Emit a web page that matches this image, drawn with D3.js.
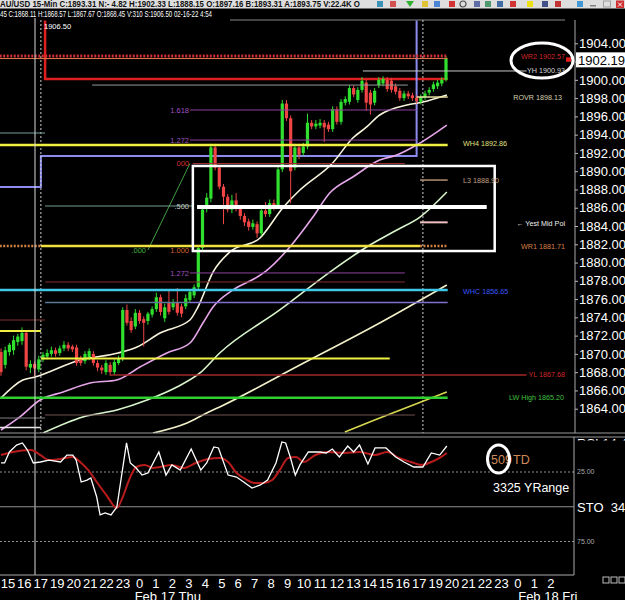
<!DOCTYPE html>
<html><head><meta charset="utf-8">
<script src="https://cdn.jsdelivr.net/npm/d3@7/dist/d3.min.js"></script>
<style>html,body{margin:0;padding:0;background:#000;overflow:hidden}svg{display:block}text{font-family:"Liberation Sans",Arial,sans-serif}</style>
</head><body><svg id="c" width="625" height="600"></svg>
<script>
// ---------- DATA ----------
const opens = [1870.2,1868.8,1870.2,1870.4,1871.3,1871.4,1872.3,1868.5,1868.9,1868.3,
1869.4,1869.7,1870.0,1870.4,1870.1,1870.6,1871.0,1870.8,1870.7,1869.5,
1869.2,1869.6,1870.0,1869.0,1868.5,1868.0,1868.8,1868.0,1869.0,1869.5,
1874.8,1873.6,1873.0,1874.5,1873.8,1873.6,1874.3,1874.9,1876.2,1873.9,
1875.6,1875.1,1875.6,1875.2,1875.2,1875.9,1876.4,1877.3,1881.6,1885.9,
1887.0,1892.6,1890.4,1888.3,1887.2,1885.8,1886.8,1885.9,1885.1,1884.5,
1883.9,1884.2,1883.2,1885.7,1885.3,1886.5,1886.3,1890.2,1897.4,1895.8,
1890.4,1892.6,1892.0,1892.7,1895.3,1894.9,1895.0,1895.3,1895.1,1894.6,
1896.8,1895.4,1897.5,1897.6,1899.1,1897.8,1898.9,1899.7,1898.6,1897.5,
1899.4,1899.6,1900.0,1899.9,1899.3,1898.8,1898.0,1898.5,1898.3,1898.0,
1897.6,1898.1,1898.6,1899.0,1899.3,1899.6,1900.0];
const highs = [1870.6,1870.8,1871.2,1872.0,1872.2,1872.9,1872.6,1869.3,1869.2,1869.8,
1870.2,1870.5,1870.8,1870.7,1870.9,1871.4,1871.3,1871.0,1871.0,1869.8,
1870.3,1870.6,1870.3,1869.3,1868.8,1869.3,1869.1,1869.4,1869.8,1875.1,
1875.4,1874.0,1874.9,1874.8,1874.1,1874.6,1875.2,1876.7,1876.5,1875.5,
1876.9,1876.0,1877.2,1875.5,1876.5,1877.1,1877.6,1881.9,1886.3,1887.6,
1893.0,1893.0,1890.7,1888.6,1887.5,1887.4,1887.6,1886.2,1885.4,1884.8,
1884.7,1884.5,1886.0,1886.6,1886.9,1886.9,1890.5,1897.8,1897.8,1896.1,
1893.0,1893.0,1893.1,1896.3,1895.6,1895.6,1895.7,1895.6,1895.4,1897.1,
1897.1,1897.9,1898.2,1899.4,1899.4,1899.2,1900.3,1900.0,1898.9,1899.1,
1900.3,1900.4,1900.3,1900.2,1899.6,1899.1,1898.8,1898.8,1898.6,1898.3,
1898.4,1898.8,1899.2,1899.8,1900.0,1900.3,1902.6];
const lows = [1867.6,1868.4,1869.8,1869.9,1870.9,1871.0,1868.2,1867.9,1867.5,1868.0,
1869.1,1869.4,1869.7,1869.7,1869.8,1870.3,1870.3,1870.2,1868.7,1868.7,
1868.9,1869.3,1868.7,1868.1,1867.8,1867.7,1867.6,1867.7,1868.8,1869.2,
1873.1,1872.3,1872.7,1873.3,1870.8,1873.2,1874.0,1874.6,1874.2,1873.5,
1874.3,1874.8,1874.2,1874.0,1874.9,1875.6,1876.1,1876.9,1881.2,1885.5,
1886.6,1890.1,1888.0,1884.2,1885.5,1885.4,1885.6,1884.7,1884.0,1883.5,
1883.6,1882.7,1882.9,1885.0,1885.0,1885.7,1886.0,1889.9,1895.5,1886.5,
1890.1,1891.3,1891.7,1892.4,1894.6,1894.6,1894.7,1893.2,1894.3,1894.3,
1895.1,1895.1,1897.2,1897.3,1898.1,1897.5,1898.6,1896.6,1896.2,1897.2,
1899.1,1899.3,1898.7,1898.6,1898.4,1897.7,1897.7,1897.9,1897.7,1897.4,
1897.3,1897.8,1898.3,1898.7,1899.0,1899.3,1899.8];
const closes = [1868.0,1870.4,1871.0,1871.5,1871.9,1872.3,1868.6,1868.9,1868.4,1869.4,
1869.9,1870.1,1870.4,1870.0,1870.6,1871.0,1870.6,1870.5,1869.0,1869.0,
1870.0,1870.3,1869.0,1868.5,1868.2,1869.0,1868.0,1869.1,1869.5,1874.8,
1873.4,1872.6,1874.5,1873.6,1873.4,1874.4,1874.9,1876.2,1874.6,1875.1,
1874.6,1875.6,1874.5,1874.4,1876.1,1876.8,1877.3,1881.6,1885.8,1887.1,
1892.6,1890.4,1888.3,1887.2,1885.8,1886.8,1885.9,1885.1,1884.4,1883.9,
1884.3,1883.2,1885.7,1885.3,1886.5,1886.2,1890.2,1897.4,1895.8,1890.0,
1892.6,1891.8,1892.7,1895.3,1894.9,1895.2,1895.3,1894.8,1894.6,1896.8,
1895.4,1897.6,1897.9,1899.1,1898.4,1898.9,1899.9,1897.5,1897.3,1898.8,
1900.0,1900.1,1899.0,1898.9,1898.7,1898.0,1898.5,1898.2,1898.0,1897.7,
1898.1,1898.5,1898.9,1899.5,1899.7,1900.0,1902.3];

// moving averages: bar index / price samples
const ma1Idx = [0,5.2,8.1,18.8,27.9,32.4,37.9,45.0,46.9,50.5,54.5,61.7,67.1,71.2,79.0,83.8,87.1,90.2,92.6,96.7,100.5,106.2];
const ma1Val = [1865.17,1867.14,1867.47,1869.33,1870.10,1870.75,1872.29,1873.71,1875.13,1878.96,1881.15,1882.69,1885.97,1887.94,1890.90,1893.63,1894.84,1896.15,1896.70,1897.24,1897.57,1898.34];
const ma2Idx = [0,4.5,9.3,14.8,21.2,27.6,33.1,39.5,45.0,48.1,50.5,55.2,61.0,63.4,68.8,74.3,78.3,83.8,90.2,94.3,99.0,106.2];
const ma2Val = [1861.67,1863.10,1864.95,1865.83,1866.81,1867.14,1868.56,1870.10,1871.19,1873.38,1875.13,1876.99,1878.41,1879.18,1881.70,1884.98,1887.61,1889.36,1891.22,1891.77,1892.86,1895.05];
const ma3Idx = [10.0,19.5,27.6,34.8,41.9,47.4,52.1,66.4,79.0,87.1,94.3,99.8,106.2];
const ma3Val = [1861.34,1863.10,1863.86,1864.95,1866.38,1867.91,1870.10,1874.81,1879.18,1881.70,1883.56,1884.98,1887.72];
const ma4Idx = [36.2,44.3,49.0,52.1,71.2,90.2,106.2];
const ma4Val = [1861.34,1862.43,1863.53,1864.19,1868.78,1873.38,1877.54];
const ma5Idx = [81.9,89.0,106.2];
const ma5Val = [1861.45,1862.76,1865.83];

// stochastic (lower pane)
const stochFastIdx = [0,0.85,2.0,3.7,5.1,6.3,7.7,9.4,11.4,14.2,15.7,17.1,17.9,19.1,20.5,21.4,22.8,23.6,24.8,26.2,27.6,29.9,30.8,32.2,33.6,35.0,37.6,39.3,40.7,42.7,45.3,47.6,49.0,50.7,51.8,54.1,56.1,57.8,59.8,61.8,63.5,65.5,66.9,67.8,68.9,70.1,71.2,73.2,76.0,77.5,78.9,80.6,82.6,84.0,85.4,87.4,89.1,91.7,94.0,96.0,98.3,100.5,102.5,104.5,106.2];
const stochFast = [18.5,18.5,10.6,5.6,4.1,9.2,18.5,17.8,16.4,17.8,
12.8,12.8,16.4,32.2,30.8,29.3,43.0,55.9,54.5,55.9,
50.2,4.1,18.5,22.1,27.2,25.7,10.6,27.2,19.9,23.6,
8.5,23.6,18.5,7.0,7.7,27.2,28.6,32.2,36.6,34.3,
30.8,18.5,3.4,4.1,14.2,27.2,19.9,10.6,10.6,11.3,
8.5,14.2,6.3,10.6,5.6,19.2,7.7,7.7,14.2,17.8,
21.4,21.4,11.3,12.8,6.3];
const stochSlowIdx = [0,2.8,7.1,9.4,11.4,14.2,17.1,19.1,20.8,22.8,25.1,27.6,29.0,30.5,32.2,34.2,36.2,37.9,40.7,43.6,46.4,49.3,52.1,54.1,56.1,57.8,60.4,62.7,64.6,66.4,68.4,70.3,72.1,74.9,77.8,81.7,85.4,89.1,92.0,94.8,97.7,100.2,102.5,104.5,106.2];
const stochSlow = [12.8,10.6,9.2,12.8,16.4,15.6,14.2,18.5,23.6,32.2,
41.6,50.9,43.0,30.8,21.4,19.9,22.1,21.4,19.9,22.1,
18.5,15.6,14.9,17.8,25.7,29.3,32.9,32.9,30.8,23.6,
14.9,14.2,17.8,12.8,10.6,11.3,10.6,12.8,10.6,14.9,
17.8,19.9,17.8,14.9,11.3];

// horizontal levels: price and bar-index span
const levelPrice = [1902.61,1902.33,1900.97,1899.43,1898.12,1896.70,1893.41,1892.86,1894.18,1890.84,1889.03,1886.19,1884.40,1881.81,1881.81,1881.81,1878.86,1877.87,1877.00,1875.62,1875.62,1873.71,1872.50,1869.50,1867.68,1865.20,1863.31,1862.98,1861.94];
const levelFrom  = [-0.3,-0.3,86.2,21.7,99.0,45.0,45.0,-0.3,-0.3,45.7,99.8,10.5,99.8,9.5,-0.3,99.8,45.0,10.5,-0.3,10.5,45.0,-0.3,-0.3,9.5,26.0,-0.3,10.5,-0.3,-0.3];
const levelTo    = [106.4,106.4,125.2,96.9,106.4,99.0,99.0,106.4,10.5,96.2,106.4,45.7,106.4,99.8,9.5,106.4,96.2,96.2,106.4,45.0,106.4,10.5,9.5,92.6,125.2,106.4,98.6,10.5,9.5];

const levelLabels = ["WR2 1902.57","YH 1900.93","ROVR 1898.13","WH4 1892.86","L3 1888.90","\u2190 Yest Mid Poi","WR1 1881.71","WHC 1856.65","YL 1867.68","LW High 1865.20"];
const levelLabelPrice = [1902.61,1900.97,1898.12,1892.98,1889.03,1884.33,1881.81,1876.88,1867.79,1865.28];

const fibLabels = ["1.618","1.272","000",".500","1.000",".000","1.272"];
const fibPrice = [1896.70,1893.41,1890.84,1886.19,1881.37,1881.37,1878.86];

const redStepIdx = [10.5,10.5,106.4], redStepVal = [1906.5,1900.09,1900.09];
const lavStepIdx = [-0.3,9.5,9.5,99.0,99.0], lavStepVal = [1888.27,1888.27,1891.66,1891.66,1906.5];
const fibDiagIdx = [35,45], fibDiagVal = [1881.37,1890.84];
const boxIdx = [45.7,117.6], boxVal = [1890.57,1881.26];
const midLineIdx = [46.7,115.7], midLineVal = 1886.08;
const sessionIdx = 8.1, dottedIdx = [9.5,100.5];

const priceTicks = d3.range(1864, 1905, 2);
const lastPrice = 1902.19;
const hourLabels = ["15","16","17","19","20","21","22","23","0","1","2","3","4","5","6","7","8","9","10","11","12","13","14","15","16","17","19","20","21","22","23","0","1","2"];
const dateLabels = ["Feb 17 Thu","Feb 18 Fri"];
const dateSlots = [9.75,32.85];
const stochLevels = [25,75];

// ---------- SCALES ----------
const svg = d3.select("#c");
const xb = d3.scaleLinear().domain([0,106]).range([1,446]);
const y = d3.scaleLinear().domain([1864,1904]).range([408.7,43.3]);
const ys = d3.scaleLinear().domain([0,100]).range([437.25,576.25]);
const xs = d3.scaleLinear().domain([0,33]).range([7.4,550.3]);
const FONT = '"Liberation Sans",Arial,sans-serif';

svg.append("rect").attr("width",625).attr("height",600).attr("fill","#000");
const defs = svg.append("defs");
defs.append("clipPath").attr("id","up").append("rect").attr("x",0).attr("y",20).attr("width",575).attr("height",413);
defs.append("clipPath").attr("id","lo").append("rect").attr("x",0).attr("y",437).attr("width",574).attr("height",138);
defs.append("clipPath").attr("id","rsi").append("rect").attr("x",575).attr("y",437.5).attr("width",50).attr("height",3);

// ---------- HEADER ----------
svg.append("rect").attr("x",0).attr("y",0).attr("width",625).attr("height",8.5).attr("fill","#dedede");
svg.append("text").attr("x",0).attr("y",7).attr("font-size",9.5).attr("font-weight","bold").attr("fill","#111")
  .attr("textLength",360).attr("lengthAdjust","spacingAndGlyphs")
  .text("AU/USD 15-Min C:1893.31 N:- 4.82 H:1902.33 L:1888.15 O:1897.16 B:1893.31 A:1893.75 V:22.4K O");
svg.append("text").attr("x",0).attr("y",17).attr("font-size",9).attr("fill","#fff")
  .attr("textLength",212).attr("lengthAdjust","spacingAndGlyphs")
  .text("45 C:1868.11 H:1868.57 L:1867.67 O:1868.45 V:310 S:1906.50 02-16-22 4:54");
const icons = [[380,"#2a8ab0"],[393,"#d04040"],[410,"#30b030"],[425,"#e0c020"],[437,"#3a7ad0"],[452,"#d02020"],[463,"#505050"],[477,"#5060a0"],[488,"#409060"],[500,"#3060a0"],[513,"#d02020"],[530,"#f0e000"],[545,"#304080"],[558,"#c02020"],[580,"#3090d0"],[593,"#808080"],[607,"#a0a0a0"],[620,"#d03030"]];
icons.forEach(([ix,c],k)=>{
  if(k===15){svg.append("rect").attr("x",ix-3).attr("y",5).attr("width",6).attr("height",1.5).attr("fill",c);}
  else if(k===16){svg.append("rect").attr("x",ix-3.5).attr("y",1).attr("width",7).attr("height",6).attr("fill","none").attr("stroke",c);}
  else if(k===17){svg.append("rect").attr("x",ix-4).attr("y",0.5).attr("width",8).attr("height",7.5).attr("fill",c);
    svg.append("path").attr("d",`M${ix-2},2.5L${ix+2},6.5M${ix+2},2.5L${ix-2},6.5`).attr("stroke","#fff").attr("stroke-width",1);}
  else if(k===2){svg.append("path").attr("d",`M${ix-4},1L${ix+4},1L${ix},7Z`).attr("fill",c);}
  else if(k===6){svg.append("circle").attr("cx",ix).attr("cy",4).attr("r",3).attr("fill","none").attr("stroke",c).attr("stroke-width",1.2);}
  else {svg.append("rect").attr("x",ix-3).attr("y",1).attr("width",6).attr("height",6).attr("fill",c).attr("opacity",0.9);}
});
svg.append("line").attr("x1",230).attr("x2",565).attr("y1",20).attr("y2",20).attr("stroke","#888");

// ---------- UPPER PANE ----------
const up = svg.append("g").attr("clip-path","url(#up)");
const levelStyle = [
 {c:"#d03030",w:3,d:"2,1.5"},{c:"#e07a50",w:1},{c:"#c8c8c8",w:1},{c:"#9a9a9a",w:1},{c:"#e8e0a0",w:1.5},
 {c:"#9040a0",w:1},{c:"#9040a0",w:1},{c:"#f0f040",w:2.5},{c:"#70a0a0",w:1},{c:"#a03030",w:1},
 {c:"#b09070",w:1.5},{c:"#70a090",w:1},{c:"#f0c0c0",w:2},{c:"#f0e040",w:2.5},{c:"#d08040",w:2.5,d:"2,1.5"},
 {c:"#d08040",w:2.5,d:"2,1.5"},{c:"#9040a0",w:1},{c:"#803030",w:1},{c:"#40c8e8",w:2.5},{c:"#5a7a98",w:1.5},
 {c:"#8070d0",w:1.5},{c:"#803030",w:1},{c:"#f0f040",w:2},{c:"#f0f040",w:2},{c:"#a02828",w:1.5},
 {c:"#30d030",w:2.5},{c:"#705050",w:1},{c:"#808080",w:1},{c:"#e8e8e8",w:1.5}];
const levels = levelPrice.map((p,i)=>({p,f:levelFrom[i],t:levelTo[i],...levelStyle[i]}));
const lvG = svg.append("g");
lvG.selectAll("line").data(levels).join("line")
  .attr("x1",d=>xb(d.f)).attr("x2",d=>xb(d.t)).attr("y1",d=>y(d.p)).attr("y2",d=>y(d.p))
  .attr("stroke",d=>d.c).attr("stroke-width",d=>d.w).attr("stroke-dasharray",d=>d.d||null);

const lineXY = d3.line().x(d=>xb(d[0])).y(d=>y(d[1]));
up.append("path").datum(redStepIdx.map((v,i)=>[v,redStepVal[i]])).attr("d",lineXY).attr("fill","none").attr("stroke","#e02020").attr("stroke-width",2.5);
up.append("path").datum(lavStepIdx.map((v,i)=>[v,lavStepVal[i]])).attr("d",lineXY).attr("fill","none").attr("stroke","#8c8cf0").attr("stroke-width",2);
up.append("path").datum(fibDiagIdx.map((v,i)=>[v,fibDiagVal[i]])).attr("d",lineXY).attr("fill","none").attr("stroke","#40a040").attr("stroke-width",1);

// vertical lines
svg.append("line").attr("x1",xb(sessionIdx)).attr("x2",xb(sessionIdx)).attr("y1",18).attr("y2",575).attr("stroke","#d8d8d8").attr("stroke-width",1);
dottedIdx.forEach(v=>up.append("line").attr("x1",xb(v)).attr("x2",xb(v)).attr("y1",20).attr("y2",433).attr("stroke","#cfcfcf").attr("stroke-dasharray","2,2"));

// moving averages
const maCurve = d3.line().x(d=>xb(d[0])).y(d=>y(d[1])).curve(d3.curveMonotoneX);
[[ma4Idx,ma4Val,"#f2f0c8"],[ma5Idx,ma5Val,"#d8d850"],[ma3Idx,ma3Val,"#d8f5cc"],[ma2Idx,ma2Val,"#e6a6ea"],[ma1Idx,ma1Val,"#f8f4dc"]]
 .forEach(([ix,vv,c])=>up.append("path").datum(ix.map((v,i)=>[v,vv[i]])).attr("d",maCurve).attr("fill","none").attr("stroke",c).attr("stroke-width",1.6));

// candles
const bars = opens.map((o,i)=>({i,o,h:highs[i],l:lows[i],c:closes[i]}));
const col = d=>d.c>=d.o?"#2fe02f":"#f04545";
const cg = up.append("g");
cg.selectAll("line").data(bars).join("line")
  .attr("x1",d=>xb(d.i)).attr("x2",d=>xb(d.i)).attr("y1",d=>y(d.h)).attr("y2",d=>y(d.l)).attr("stroke",col).attr("stroke-width",1);
cg.selectAll("rect").data(bars).join("rect")
  .attr("x",d=>xb(d.i)-1.6).attr("width",3.2)
  .attr("y",d=>y(Math.max(d.o,d.c))).attr("height",d=>Math.max(1,Math.abs(y(d.o)-y(d.c)))).attr("fill",col);

// white box and thick line
svg.append("rect").attr("x",xb(boxIdx[0])).attr("y",y(boxVal[0])).attr("width",xb(boxIdx[1])-xb(boxIdx[0])).attr("height",y(boxVal[1])-y(boxVal[0]))
  .attr("fill","none").attr("stroke","#fff").attr("stroke-width",2.5);
svg.append("line").attr("x1",xb(midLineIdx[0])).attr("x2",xb(midLineIdx[1])).attr("y1",y(midLineVal)).attr("y2",y(midLineVal)).attr("stroke","#fff").attr("stroke-width",4);

// fib labels
const fibX = [189,189,189,189,189,146,189];
const fibCol = ["#a050c0","#a050c0","#d03030","#c8c8c8","#d06030","#40b040","#a050c0"];
svg.append("g").selectAll("text").data(fibLabels).join("text")
  .attr("x",(d,i)=>fibX[i]).attr("y",(d,i)=>y(fibPrice[i])).attr("dy","0.35em").attr("text-anchor","end")
  .attr("font-size",7.5).attr("fill",(d,i)=>fibCol[i]).text(d=>d);

// level labels
const lblX = [565,565,562,463,463,565,565,463,565,564];
const lblAnchor = ["end","end","end","start","start","end","end","start","end","end"];
const lblCol = ["#d02828","#d8d8d8","#d8d0b0","#e0e080","#c0a080","#f0f0f0","#d88048","#3858ff","#d02828","#40c040"];
svg.append("g").selectAll("text").data(levelLabels).join("text")
  .attr("x",(d,i)=>lblX[i]).attr("y",(d,i)=>y(levelLabelPrice[i])).attr("dy","0.35em").attr("text-anchor",(d,i)=>lblAnchor[i])
  .attr("font-size",7.2).attr("fill",(d,i)=>lblCol[i]).text(d=>d);
svg.append("text").attr("x",44).attr("y",29).attr("font-size",7.5).attr("fill","#fff").text("1906.50");

// price axis
svg.append("line").attr("x1",575).attr("x2",575).attr("y1",20).attr("y2",433).attr("stroke","#aaa");
const pax = svg.append("g").attr("transform","translate(575,0)")
  .call(d3.axisRight(y).tickValues(priceTicks).tickFormat(d3.format(".2f")).tickSize(3).tickPadding(1));
pax.select(".domain").remove();
pax.selectAll("line").attr("stroke","#bbb");
pax.selectAll("text").attr("fill","#fff").attr("font-size",13).attr("font-family",FONT);
svg.append("rect").attr("x",576).attr("y",y(lastPrice)-7.5).attr("width",49).attr("height",15).attr("fill","#fff");
svg.append("text").attr("x",578).attr("y",y(lastPrice)).attr("dy","0.36em").attr("font-size",13).attr("fill","#000").text(d3.format(".2f")(lastPrice));
svg.append("rect").attr("x",566).attr("y",y(lastPrice)-2.5).attr("width",5).attr("height",4.5).attr("fill","#e02020");
svg.append("ellipse").attr("cx",542).attr("cy",60.5).attr("rx",31).attr("ry",17.5).attr("fill","none").attr("stroke","#fff").attr("stroke-width",3);

// pane separators
svg.append("line").attr("x1",0).attr("x2",625).attr("y1",433).attr("y2",433).attr("stroke","#999");
svg.append("line").attr("x1",0).attr("x2",625).attr("y1",437).attr("y2",437).attr("stroke","#999");
svg.append("text").attr("x",577).attr("y",448).attr("font-size",13).attr("fill","#fff").attr("clip-path","url(#rsi)").text("RSI  14,4");

// ---------- LOWER PANE ----------
const lo = svg.append("g");
lo.selectAll("line.sl").data(stochLevels).join("line").attr("class","sl")
  .attr("x1",0).attr("x2",574).attr("y1",d=>ys(d)).attr("y2",d=>ys(d)).attr("stroke","#909090").attr("stroke-dasharray","2,2");
lo.append("line").attr("x1",0).attr("x2",574).attr("y1",ys(50)).attr("y2",ys(50)).attr("stroke","#909090");
lo.selectAll("text.sl").data(stochLevels).join("text").attr("class","sl")
  .attr("x",577).attr("y",d=>ys(d)).attr("dy","0.35em").attr("font-size",7).attr("fill","#aaa").text(d=>d3.format(".2f")(d));
svg.append("line").attr("x1",574).attr("x2",574).attr("y1",437).attr("y2",575).attr("stroke","#aaa");
svg.append("line").attr("x1",0).attr("x2",574).attr("y1",575).attr("y2",575).attr("stroke","#aaa");
const stLine = d3.line().x(d=>xb(d[0])).y(d=>ys(d[1]));
const loc = lo.append("g").attr("clip-path","url(#lo)");
loc.append("path").datum(stochSlowIdx.map((v,i)=>[v,stochSlow[i]])).attr("d",stLine.curve(d3.curveMonotoneX)).attr("fill","none").attr("stroke","#b81c1c").attr("stroke-width",2);
loc.append("path").datum(stochFastIdx.map((v,i)=>[v,stochFast[i]])).attr("d",d3.line().x(d=>xb(d[0])).y(d=>ys(d[1]))).attr("fill","none").attr("stroke","#fff").attr("stroke-width",1.3);

svg.append("text").attr("x",491).attr("y",464).attr("font-size",12.5).attr("fill","#d08a5a").text("509");
svg.append("text").attr("x",513).attr("y",464).attr("font-size",12.5).attr("fill","#d08a5a").text("TD");
svg.append("ellipse").attr("cx",498.5).attr("cy",459).attr("rx",11).attr("ry",14).attr("fill","none").attr("stroke","#fff").attr("stroke-width",3);
svg.append("text").attr("x",493).attr("y",492).attr("font-size",12.5).attr("fill","#fff").text("3325 YRange");
svg.append("text").attr("x",577).attr("y",512).attr("font-size",13).attr("fill","#fff").attr("xml:space","preserve").text("STO  34,");

// ---------- X AXIS ----------
const xax = svg.append("g").attr("transform","translate(0,575)")
  .call(d3.axisBottom(xs).tickValues(d3.range(hourLabels.length)).tickFormat(i=>hourLabels[i]).tickSize(0).tickPadding(4));
xax.select(".domain").remove();
xax.selectAll("text").attr("fill","#fff").attr("font-size",13).attr("font-family",FONT);
svg.append("g").selectAll("text").data(dateLabels).join("text")
  .attr("x",(d,i)=>xs(dateSlots[i])).attr("y",601).attr("text-anchor","middle").attr("font-size",13).attr("fill","#fff").text(d=>d);
[603,611,619].forEach(sx=>svg.append("rect").attr("x",sx).attr("y",577).attr("width",6).attr("height",6).attr("fill","none").attr("stroke","#bbb"));
</script></body></html>
